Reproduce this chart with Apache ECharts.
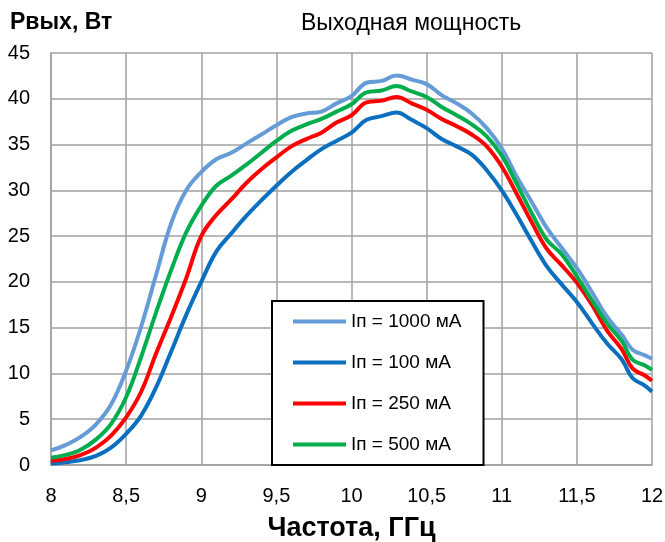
<!DOCTYPE html>
<html>
<head>
<meta charset="utf-8">
<script src="https://cdn.jsdelivr.net/npm/echarts@6/dist/echarts.min.js"></script>
<style>
  html, body { margin: 0; padding: 0; background: #fff; }
  #chart { width: 665px; height: 542px; }
</style>
</head>
<body>
<div id="chart"></div>
<script>
// частоты, ГГц
const freqs = [8.0, 8.1, 8.2, 8.3, 8.4, 8.5, 8.6, 8.7, 8.8, 8.9,
  9.0, 9.1, 9.2, 9.3, 9.4, 9.5, 9.6, 9.7, 9.8, 9.9,
  10.0, 10.1, 10.2, 10.3, 10.4, 10.5, 10.6, 10.7, 10.8, 10.9,
  11.0, 11.1, 11.2, 11.3, 11.4, 11.5, 11.6, 11.7, 11.8, 11.87, 11.95, 12.0];

// Рвых, Вт при разных токах
const p1000 = [1.6, 2.2, 3.1, 4.45, 6.6, 10.3, 15.1, 20.8, 26.4, 30.0,
  32.0, 33.4, 34.1, 35.1, 36.1, 37.1, 38.0, 38.4, 38.6, 39.5,
  40.3, 41.75, 41.95, 42.55, 42.1, 41.6, 40.4, 39.5, 38.4, 36.8,
  34.6, 31.5, 28.7, 25.9, 23.7, 21.5, 18.9, 16.2, 14.2, 12.6, 12.0, 11.6];
const p100 = [0.15, 0.3, 0.55, 1.0, 1.9, 3.4, 5.4, 8.5, 12.4, 16.4,
  20.0, 23.3, 25.3, 27.2, 28.9, 30.5, 32.0, 33.3, 34.5, 35.4,
  36.3, 37.7, 38.1, 38.5, 37.7, 36.8, 35.6, 34.8, 33.9, 32.2,
  30.0, 27.3, 24.4, 21.7, 19.7, 17.8, 15.5, 13.3, 11.5, 9.5, 8.7, 8.0];
const p250 = [0.45, 0.65, 1.1, 1.9, 3.2, 5.2, 8.0, 12.2, 16.2, 20.4,
  25.0, 27.3, 29.0, 30.8, 32.3, 33.6, 34.8, 35.6, 36.3, 37.4,
  38.2, 39.6, 39.8, 40.2, 39.5, 38.8, 37.8, 37.0, 36.1, 34.8,
  32.6, 29.6, 26.5, 23.6, 21.8, 19.9, 17.5, 14.7, 12.6, 10.55, 9.8, 9.2];
const p500 = [0.8, 1.1, 1.7, 2.8, 4.5, 7.4, 11.8, 16.7, 21.3, 25.4,
  28.3, 30.5, 31.6, 32.8, 34.1, 35.4, 36.5, 37.2, 37.8, 38.6,
  39.4, 40.7, 40.9, 41.4, 40.8, 40.2, 39.1, 38.2, 37.2, 35.9,
  33.8, 30.7, 27.5, 24.6, 23.0, 20.6, 18.0, 15.5, 13.5, 11.5, 10.9, 10.4];

const seriesNames = ['Iп = 1000 мА', 'Iп = 100 мА', 'Iп = 250 мА', 'Iп = 500 мА'];
const seriesValues = [p1000, p100, p250, p500];
const seriesColors = ['#659bd6', '#0a6fbf', '#ff0000', '#00ad4c'];

const FONT = "'Liberation Sans', Arial, sans-serif";
const comma = v => String(v).replace('.', ',');

const chart = echarts.init(document.getElementById('chart'));
chart.setOption({
  backgroundColor: '#fff',
  animation: false,
  title: [
    {
      text: 'Pвых, Вт',
      left: 5, top: 6,
      textStyle: { fontFamily: FONT, fontSize: 23, fontWeight: 'bold', color: '#000' }
    },
    {
      text: 'Выходная мощность',
      left: 296, top: 7,
      textStyle: { fontFamily: FONT, fontSize: 23, fontWeight: 'normal', color: '#000' }
    }
  ],
  grid: { left: 51, right: 13, top: 53, bottom: 77, outerBoundsMode: 'none' },
  xAxis: {
    type: 'value',
    min: 8, max: 12, interval: 0.5,
    name: 'Частота, ГГц',
    nameLocation: 'middle',
    nameGap: 50,
    nameTextStyle: { fontFamily: FONT, fontSize: 27, fontWeight: 'bold', color: '#000' },
    axisLine: { lineStyle: { color: '#a0a0a0', width: 1.5 } },
    axisTick: { show: false },
    axisLabel: { formatter: comma, fontFamily: FONT, fontSize: 20, color: '#000', margin: 21 },
    splitLine: { show: true, lineStyle: { color: '#a0a0a0', width: 1.5 } }
  },
  yAxis: {
    type: 'value',
    min: 0, max: 45, interval: 5,
    axisLine: { show: true, lineStyle: { color: '#a0a0a0', width: 1.5 } },
    axisTick: { show: false },
    axisLabel: { fontFamily: FONT, fontSize: 20, color: '#000', margin: 21 },
    splitLine: { lineStyle: { color: '#a0a0a0', width: 1.5 } }
  },
  legend: {
    orient: 'vertical',
    left: 272, top: 301,
    padding: [11, 22, 11, 21],
    itemWidth: 53, itemHeight: 20, itemGap: 22,
    icon: 'path://M0,0 L53,0 L53,4 L0,4 Z',
    backgroundColor: '#fff',
    borderColor: '#000', borderWidth: 2,
    textStyle: { fontFamily: FONT, fontSize: 19, color: '#000' },
    data: seriesNames
  },
  series: seriesNames.map((name, i) => ({
    name: name,
    type: 'line',
    smooth: 0.4,
    symbol: 'none',
    lineStyle: { width: 4, color: seriesColors[i] },
    itemStyle: { color: seriesColors[i] },
    data: freqs.map((f, j) => [f, seriesValues[i][j]])
  }))
});
</script>
</body>
</html>
